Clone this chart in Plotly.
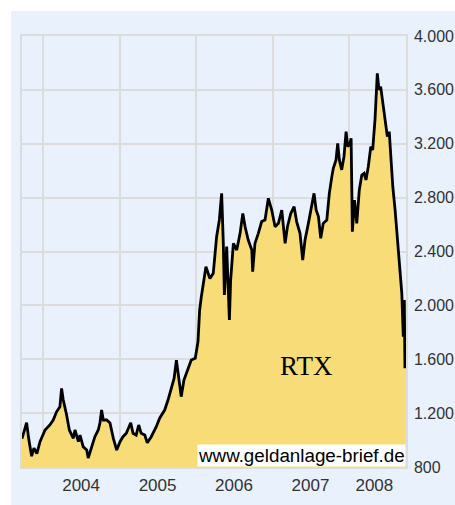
import plotly.graph_objects as go

dates = [
    "2003-09-23", "2003-10-15", "2003-10-26", "2003-11-08", "2003-11-19", "2003-12-03", "2003-12-18",
    "2004-01-11", "2004-02-03", "2004-02-19", "2004-03-06", "2004-03-22", "2004-03-30", "2004-04-07",
    "2004-04-23", "2004-05-06", "2004-05-25", "2004-06-02", "2004-06-18", "2004-06-26", "2004-07-11",
    "2004-07-28", "2004-08-04", "2004-08-21", "2004-09-05", "2004-09-21", "2004-09-29", "2004-10-07",
    "2004-10-15", "2004-10-31", "2004-11-16", "2004-12-02", "2004-12-18",
    "2005-01-03", "2005-01-17", "2005-02-02", "2005-02-23", "2005-03-06", "2005-03-21", "2005-04-02",
    "2005-04-14", "2005-05-01", "2005-05-13", "2005-06-01", "2005-06-25", "2005-07-11", "2005-08-04",
    "2005-08-20", "2005-09-05", "2005-09-18", "2005-09-29", "2005-10-10", "2005-10-22", "2005-11-04",
    "2005-11-23", "2005-12-09", "2005-12-28",
    "2006-01-10", "2006-01-18", "2006-01-26", "2006-02-17", "2006-03-08", "2006-03-24", "2006-04-09",
    "2006-04-22", "2006-05-03", "2006-05-11", "2006-05-16", "2006-05-27", "2006-06-09", "2006-06-15",
    "2006-06-28", "2006-07-14", "2006-07-30", "2006-08-12", "2006-08-23", "2006-09-07", "2006-09-24",
    "2006-09-28", "2006-10-09", "2006-10-25", "2006-11-10", "2006-11-26", "2006-12-12", "2006-12-28",
    "2007-01-13", "2007-01-29", "2007-02-14", "2007-03-02", "2007-03-13", "2007-03-29", "2007-04-14",
    "2007-04-26", "2007-05-12", "2007-05-25", "2007-06-05", "2007-06-21", "2007-07-07", "2007-07-18",
    "2007-07-28", "2007-08-08", "2007-08-19", "2007-08-31", "2007-09-17", "2007-09-29", "2007-10-11",
    "2007-10-18", "2007-10-31", "2007-11-08", "2007-11-16", "2007-11-27", "2007-12-08", "2007-12-18",
    "2007-12-26",
    "2008-01-06", "2008-01-11", "2008-01-17", "2008-01-27", "2008-02-07", "2008-02-19", "2008-03-02",
    "2008-03-13", "2008-03-22", "2008-04-02", "2008-04-14", "2008-04-23", "2008-05-04", "2008-05-15",
    "2008-05-23", "2008-05-31", "2008-06-10", "2008-06-21", "2008-07-02", "2008-07-11", "2008-07-18",
    "2008-07-28", "2008-08-08", "2008-08-19", "2008-08-28", "2008-09-09", "2008-09-16", "2008-09-21",
    "2008-09-24", "2008-09-29",
]

rtx_values = [
    1010, 1129, 1000, 880, 940, 900, 988,
    1075, 1112, 1149, 1210, 1248, 1384, 1297,
    1186, 1075, 1013, 1075, 988, 1037, 951,
    926, 867, 951, 1025, 1075, 1127, 1223,
    1149, 1149, 1127, 1013, 926,
    988, 1025, 1050, 1129, 1050, 1037, 1112,
    1050, 1037, 980, 1025, 1099, 1162, 1223,
    1297, 1384, 1458, 1594, 1470, 1322, 1446,
    1520, 1594, 1607,
    1730, 1966, 2064, 2287, 2200, 2238, 2510,
    2634, 2832, 2460, 2077, 2436, 1891, 2188,
    2460, 2411, 2535, 2683, 2584, 2485, 2411,
    2250, 2460, 2535, 2622, 2634, 2795, 2708,
    2584, 2609, 2708, 2460, 2584, 2683, 2733,
    2622, 2535, 2337, 2485, 2609, 2733, 2832,
    2708, 2659, 2498, 2609, 2634, 2832, 2956,
    3018, 3080, 3203, 3080, 3006, 3104, 3290,
    3178,
    3203, 3240, 2547, 2782, 2609, 2856, 2968,
    2981, 2931, 3030, 3178, 3154, 3377, 3723,
    3600, 3624, 3500, 3377, 3253, 3290, 3104,
    2881, 2708, 2485, 2312, 2089, 1767, 2040,
    1533, 1700,
]

y_tick_values = [800, 1200, 1600, 2000, 2400, 2800, 3200, 3600, 4000]
y_tick_labels = ["800", "1.200", "1.600", "2.000", "2.400", "2.800", "3.200", "3.600", "4.000"]

year_grid = ["2004-01-01", "2005-01-01", "2006-01-01", "2007-01-01", "2008-01-01"]
year_label_pos = ["2004-07-01", "2005-07-01", "2006-07-01", "2007-07-01", "2008-05-01"]
year_labels = ["2004", "2005", "2006", "2007", "2008"]

x_range = ["2003-09-23", "2008-09-29"]

fig = go.Figure()
fig.add_trace(go.Scatter(
    x=dates, y=rtx_values, mode="lines",
    line=dict(color="black", width=2.8),
    fill="tozeroy", fillcolor="#f7dc78",
    hoverinfo="skip", showlegend=False,
))

W, H = 455, 505
ml, mr, mt, mb = 22, 49, 36, 38
pw, ph = W - ml - mr, H - mt - mb

def px_x(p):
    return (p - ml) / pw

def px_y(p):
    return (H - mb - p) / ph

fig.add_shape(type="rect", xref="paper", yref="paper",
              x0=px_x(11), x1=px_x(W + 5), y0=px_y(H + 5), y1=px_y(11),
              fillcolor="#e8f1fc", line=dict(width=0), layer="below")

x_tick_font = dict(family="Liberation Sans, Arial, sans-serif", size=17, color="#333333")
y_tick_font = dict(family="Liberation Sans, Arial, sans-serif", size=16, color="#333333")

fig.update_layout(
    width=W, height=H,
    margin=dict(l=ml, r=mr, t=mt, b=mb, autoexpand=False),
    paper_bgcolor="white", plot_bgcolor="#e8f1fc",
    font=x_tick_font,
    xaxis=dict(
        type="date", range=x_range, automargin=False,
        tickmode="array", tickvals=year_label_pos, ticktext=year_labels,
        showgrid=False, ticks="", ticklabelstandoff=2, tickfont=x_tick_font,
        showline=True, linecolor="#dcdcdc", linewidth=1.5, mirror=True,
        minor=dict(tickmode="array", tickvals=year_grid, showgrid=True,
                   gridcolor="#dcdcdc", gridwidth=1.5, ticks=""),
        zeroline=False, fixedrange=True,
    ),
    yaxis=dict(
        range=[800, 4000], side="right", automargin=False,
        tickmode="array", tickvals=y_tick_values, ticktext=y_tick_labels,
        showgrid=True, gridcolor="#dcdcdc", gridwidth=1.5, ticks="",
        ticklabelstandoff=3, tickfont=y_tick_font,
        showline=True, linecolor="#dcdcdc", linewidth=1.5, mirror=True,
        zeroline=False, fixedrange=True,
    ),
    annotations=[
        dict(text="RTX", xref="paper", yref="paper", x=px_x(335), y=px_y(383),
             showarrow=False, font=dict(family="Liberation Serif, Times New Roman, serif",
                                        size=27, color="black")),
        dict(text="www.geldanlage-brief.de", xref="paper", yref="paper",
             x=1, y=0, xanchor="right", yanchor="bottom", showarrow=False,
             bgcolor="white", borderpad=0,
             font=dict(family="Liberation Sans, Arial, sans-serif", size=18.8, color="black")),
    ],
)

fig.write_html(
    "out.html",
    config={"displayModeBar": False},
    post_script="document.body.style.margin='0';document.body.style.padding='0';",
)
